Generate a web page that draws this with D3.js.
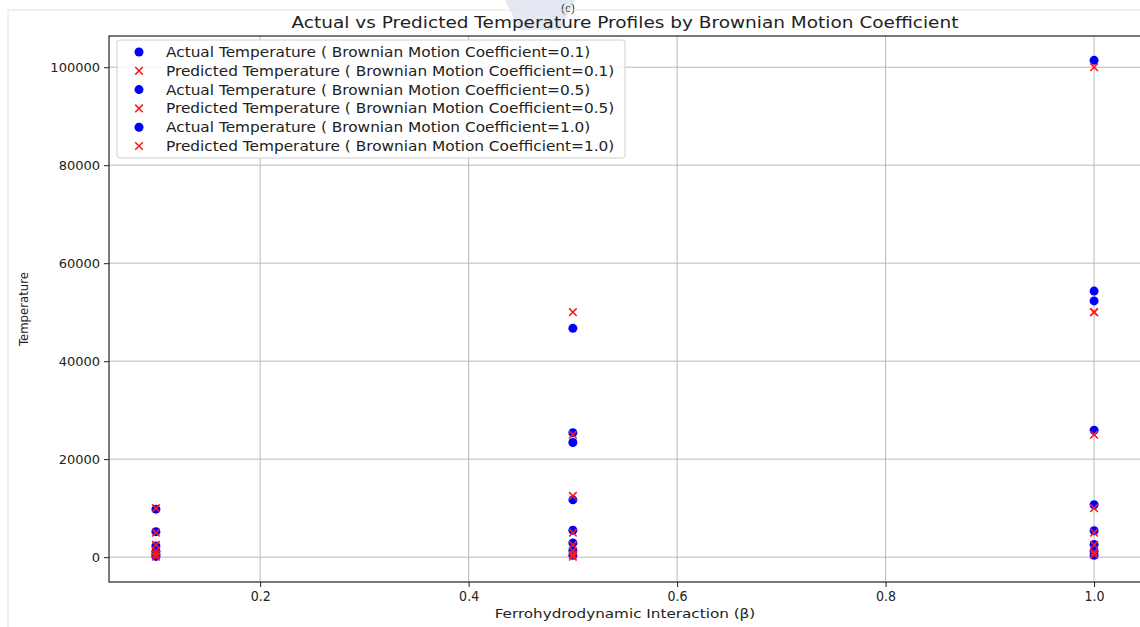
<!DOCTYPE html>
<html>
<head>
<meta charset="utf-8">
<script src="https://cdn.jsdelivr.net/npm/d3@7/dist/d3.min.js"></script>
<style>
  html, body { margin: 0; padding: 0; background: #fff; }
  svg { display: block; }
  .cond { font-family: "DejaVu Sans", sans-serif; font-stretch: condensed; }
</style>
</head>
<body>
<svg id="chart" width="1140" height="627"></svg>
<script>
// ---- data ----
const xTicks = [0.2, 0.4, 0.6, 0.8, 1.0];
const yTicks = [0, 20000, 40000, 60000, 80000, 100000];
const coefficients = ["0.1", "0.5", "1.0"];

const beta01 = [0.1, 0.1, 0.1, 0.1, 0.1, 0.1];
const actual01 = [9800, 5200, 2300, 1200, 600, 150];
const predicted01 = [10000, 5000, 2500, 1250, 625, 100];

const beta05 = [0.5, 0.5, 0.5, 0.5, 0.5, 0.5, 0.5, 0.5];
const actual05 = [46700, 25400, 23400, 11700, 5500, 2900, 1300, 400];
const predicted05 = [50000, 25000, 12500, 5000, 2500, 1250, 500, 100];

const beta10 = [1.0, 1.0, 1.0, 1.0, 1.0, 1.0, 1.0, 1.0, 1.0];
const actual10 = [101400, 54300, 52300, 25900, 10700, 5400, 2600, 1200, 400];
const predicted10 = [100000, 50000, 50000, 25000, 10000, 5000, 2500, 1000, 500];

const series = [
  { coef: coefficients[0], beta: beta01, actual: actual01, predicted: predicted01 },
  { coef: coefficients[1], beta: beta05, actual: actual05, predicted: predicted05 },
  { coef: coefficients[2], beta: beta10, actual: actual10, predicted: predicted10 }
];

// ---- layout ----
const svg = d3.select("#chart");
const L = 109, R = 1141, T = 36, B = 582;

const x = d3.scaleLinear().domain([0.055, 1.045]).range([L, R]);
const y = d3.scaleLinear().domain([-5070, 106370]).range([B, T]);

// stretch a text horizontally by a factor
function stretch(sel, f) {
  sel.each(function () {
    const w = this.getComputedTextLength();
    d3.select(this).attr("textLength", w * f).attr("lengthAdjust", "spacingAndGlyphs");
  });
}

// faint figure frame / watermark
svg.append("path")
  .attr("d", "M505,0 L575,0 L560,30 L520,30 Z")
  .attr("fill", "#e4e8f3");
svg.append("text").attr("x", 568).attr("y", 12)
  .attr("text-anchor", "middle")
  .attr("font-family", "Liberation Serif, serif").attr("font-size", 12)
  .attr("fill", "#333").text("(c)");
svg.append("line").attr("x1", 8).attr("x2", 8).attr("y1", 10).attr("y2", 627)
  .attr("stroke", "#e2e2e2");
svg.append("line").attr("x1", 8).attr("x2", 1140).attr("y1", 10).attr("y2", 10)
  .attr("stroke", "#e2e2e2");

// grid
const g = svg.append("g");
g.selectAll(".gx").data(xTicks).enter().append("line")
  .attr("x1", d => x(d)).attr("x2", d => x(d)).attr("y1", T).attr("y2", B)
  .attr("stroke", "#b8b8b8").attr("stroke-width", 1);
g.selectAll(".gy").data(yTicks).enter().append("line")
  .attr("x1", L).attr("x2", R).attr("y1", d => y(d)).attr("y2", d => y(d))
  .attr("stroke", "#b8b8b8").attr("stroke-width", 1);

// axes
const xAxis = d3.axisBottom(x).tickValues(xTicks).tickFormat(d3.format(".1f")).tickSize(5).tickPadding(4);
const yAxis = d3.axisLeft(y).tickValues(yTicks).tickFormat(d3.format("d")).tickSize(5).tickPadding(4);

const gx = svg.append("g").attr("transform", `translate(0,${B})`).call(xAxis);
gx.select(".domain").remove();
gx.selectAll("text").attr("class", "cond").attr("font-size", 14).attr("fill", "#222");
gx.selectAll("line").attr("stroke", "#222");

const gy = svg.append("g").attr("transform", `translate(${L},0)`).call(yAxis);
gy.select(".domain").remove();
gy.selectAll("text").attr("font-family", "DejaVu Sans, sans-serif").attr("font-size", 13).attr("fill", "#222");
gy.selectAll("line").attr("stroke", "#222");

// spines
svg.append("rect").attr("x", L).attr("y", T).attr("width", R - L).attr("height", B - T)
  .attr("fill", "none").attr("stroke", "#222").attr("stroke-width", 1.2);

// points
const plot = svg.append("g");
function drawActual(s) {
  plot.append("g").selectAll("circle").data(s.actual.map((v, i) => [s.beta[i], v])).enter()
    .append("circle")
    .attr("cx", d => x(d[0])).attr("cy", d => y(d[1])).attr("r", 4.5)
    .attr("fill", "#0000ff");
}
function drawPred(s) {
  const sz = 3.8;
  plot.append("g").selectAll("path").data(s.predicted.map((v, i) => [s.beta[i], v])).enter()
    .append("path")
    .attr("d", d => {
      const cx = x(d[0]), cy = y(d[1]);
      return `M${cx - sz},${cy - sz}L${cx + sz},${cy + sz}M${cx - sz},${cy + sz}L${cx + sz},${cy - sz}`;
    })
    .attr("stroke", "#ff1a1a").attr("stroke-width", 1.6).attr("fill", "none");
}
series.forEach(s => { drawActual(s); drawPred(s); });

// title
svg.append("text").attr("x", 625).attr("y", 28).attr("text-anchor", "middle")
  .attr("font-family", "DejaVu Sans, sans-serif").attr("font-size", 16.5).attr("fill", "#222")
  .text("Actual vs Predicted Temperature Profiles by Brownian Motion Coefficient")
  .call(stretch, 1.12);

// axis labels
svg.append("text").attr("class", "cond").attr("x", 625).attr("y", 618).attr("text-anchor", "middle")
  .attr("font-size", 13).attr("fill", "#222").text("Ferrohydrodynamic Interaction (β)")
  .call(stretch, 1.3);
svg.append("text").attr("class", "cond").attr("transform", "translate(28,309) rotate(-90)")
  .attr("text-anchor", "middle").attr("font-size", 13).attr("fill", "#222").text("Temperature");

// legend
const legendItems = [];
series.forEach(s => {
  legendItems.push({ type: "a", label: `Actual Temperature ( Brownian Motion Coefficient=${s.coef})` });
  legendItems.push({ type: "p", label: `Predicted Temperature ( Brownian Motion Coefficient=${s.coef})` });
});
const lg = svg.append("g");
lg.append("rect").attr("x", 117).attr("y", 40).attr("width", 508).attr("height", 118).attr("rx", 3)
  .attr("fill", "#ffffff").attr("fill-opacity", 0.85).attr("stroke", "#d0d0d0");
const ly = d3.scaleLinear().domain([0, 5]).range([52, 146]);
legendItems.forEach((it, i) => {
  const cy = ly(i);
  if (it.type === "a") {
    lg.append("circle").attr("cx", 139).attr("cy", cy).attr("r", 4.5).attr("fill", "#0000ff");
  } else {
    const sz = 3.8;
    lg.append("path").attr("d", `M${139 - sz},${cy - sz}L${139 + sz},${cy + sz}M${139 - sz},${cy + sz}L${139 + sz},${cy - sz}`)
      .attr("stroke", "#ff1a1a").attr("stroke-width", 1.6);
  }
  lg.append("text").attr("x", 166).attr("y", cy + 5)
    .attr("font-family", "DejaVu Sans, sans-serif").attr("font-size", 14).attr("fill", "#222")
    .text(it.label)
    .call(stretch, 1.095);
});
</script>
</body>
</html>
